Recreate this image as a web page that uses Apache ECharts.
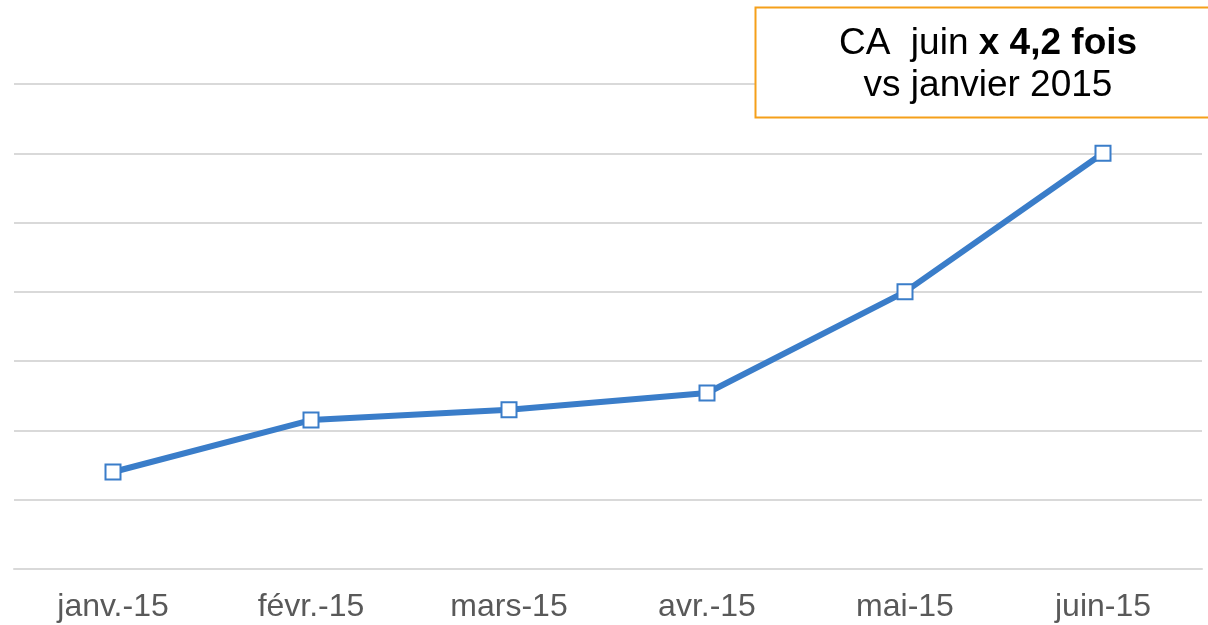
<!DOCTYPE html>
<html>
<head>
<meta charset="utf-8">
<script src="https://cdn.jsdelivr.net/npm/echarts@6/dist/echarts.min.js"></script>
<style>html,body{margin:0;padding:0;background:#fff;}#c{width:1208px;height:625px;}</style>
</head>
<body>
<div id="c"></div>
<script>
const categories = ['janv.-15', 'févr.-15', 'mars-15', 'avr.-15', 'mai-15', 'juin-15'];
const caValues = [1.40, 2.15, 2.30, 2.54, 4.00, 6.00];
const yMin = 0, yMax = 7, yInterval = 1;
const noteLine1a = 'CA  juin ';
const noteLine1b = 'x 4,2 fois';
const noteLine2 = 'vs janvier 2015';

const chart = echarts.init(document.getElementById('c'), null, {renderer: 'canvas'});
chart.setOption({
  animation: false,
  backgroundColor: '#ffffff',
  grid: {left: 14, right: 6, top: 84, bottom: 56, containLabel: false},
  xAxis: {
    type: 'category',
    data: categories,
    boundaryGap: true,
    axisLine: {show: true, lineStyle: {color: '#d9d9d9', width: 2}},
    axisTick: {show: false},
    axisLabel: {color: '#595959', fontSize: 32, fontFamily: 'Liberation Sans, Arial, sans-serif', margin: 22}
  },
  yAxis: {
    type: 'value',
    min: yMin, max: yMax, interval: yInterval,
    axisLine: {show: false},
    axisTick: {show: false},
    axisLabel: {show: false},
    splitLine: {show: true, lineStyle: {color: '#d9d9d9', width: 2}}
  },
  series: [{
    type: 'line',
    data: caValues,
    symbol: 'rect',
    symbolSize: 15,
    showAllSymbol: true,
    lineStyle: {color: '#3a7dc9', width: 6},
    itemStyle: {color: '#ffffff', borderColor: '#3a7dc9', borderWidth: 2},
    z: 3
  }],
  graphic: [
    {
      type: 'rect',
      shape: {x: 755.5, y: 7.5, width: 470, height: 110},
      style: {fill: '#ffffff', stroke: '#f5a01a', lineWidth: 2},
      z: 10
    },
    {
      type: 'text',
      x: 988, y: 44,
      style: {
        text: '{n|' + noteLine1a + '}{b|' + noteLine1b + '}',
        align: 'center', verticalAlign: 'middle',
        rich: {
          n: {fontSize: 37, fontFamily: 'Liberation Sans, Arial, sans-serif', fill: '#000000'},
          b: {fontSize: 37, fontWeight: 'bold', fontFamily: 'Liberation Sans, Arial, sans-serif', fill: '#000000'}
        }
      },
      z: 11
    },
    {
      type: 'text',
      x: 988, y: 86,
      style: {
        text: noteLine2,
        align: 'center', verticalAlign: 'middle',
        fontSize: 37, fontFamily: 'Liberation Sans, Arial, sans-serif', fill: '#000000'
      },
      z: 11
    }
  ]
});
</script>
</body>
</html>
